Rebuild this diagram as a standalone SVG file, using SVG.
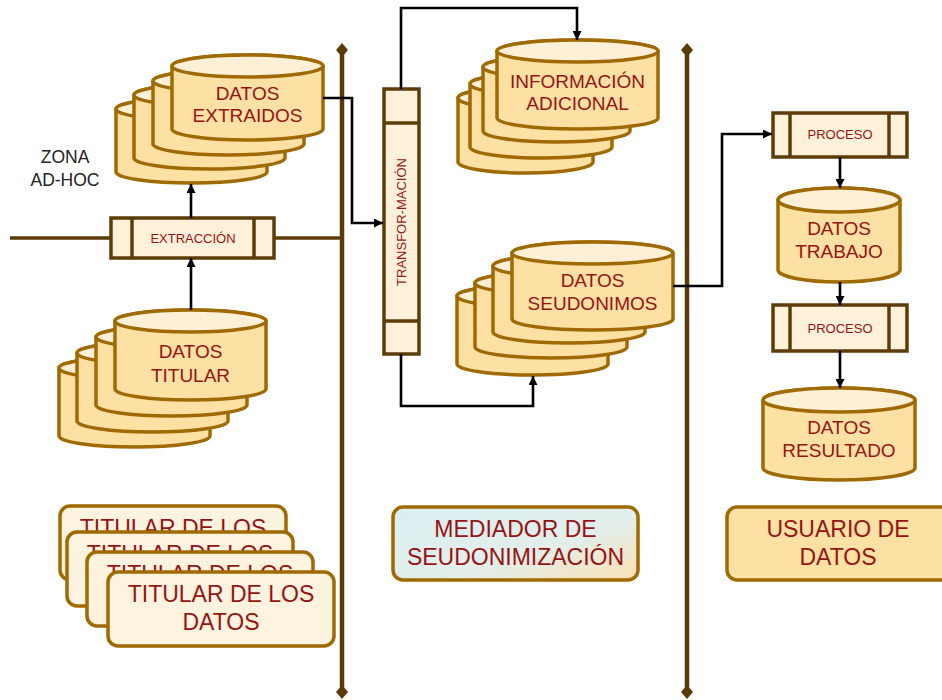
<svg xmlns="http://www.w3.org/2000/svg" width="942" height="700" viewBox="0 0 942 700">
<defs>
<style>
.cyl{fill:#FDE1A4;stroke:#A06A03;stroke-width:3.5;stroke-linejoin:round}
.cyt{fill:#FEF0D6;stroke:#A06A03;stroke-width:3.5}
.proc{fill:#FFF1D9;stroke:#5C3D0A;stroke-width:3.5}
.div{stroke:#5C3D0A;stroke-width:3.5;fill:none}
.card{fill:#FEF3DF;stroke:#A06A03;stroke-width:3.5}
.lane{stroke:#5A3B08;stroke-width:4.5;fill:none}
.dia{fill:#5A3B08}
.conn{fill:none;stroke:#000;stroke-width:2.6;stroke-linejoin:miter}
.t{font-family:"Liberation Sans",Arial,sans-serif;fill:#961414;text-anchor:middle}
.t19{font-size:19px}
.t23{font-size:23px}
.t13{font-size:13px}
.zone{font-family:"Liberation Sans",Arial,sans-serif;font-size:17.5px;fill:#222;text-anchor:middle}
</style>
<marker id="arr" viewBox="0 0 10 10" refX="10" refY="5" markerWidth="9" markerHeight="9" markerUnits="userSpaceOnUse" orient="auto">
<path d="M0,0 L10,5 L0,10 Z" fill="#000"/>
</marker>
<linearGradient id="med" x1="0" y1="0" x2="1" y2="1">
<stop offset="0" stop-color="#DAEFF3"/>
<stop offset="0.6" stop-color="#E3EEEA"/>
<stop offset="1" stop-color="#FBE1B2"/>
</linearGradient>
</defs>
<rect width="942" height="700" fill="#fff"/>

<g id="lanes">
<line class="lane" x1="10" y1="238" x2="342" y2="238" style="stroke-width:3.5"/>
<line class="lane" x1="342" y1="50" x2="342" y2="692"/>
<line class="lane" x1="687" y1="50" x2="687" y2="692"/>
<polygon class="dia" points="342,43 348,50 342,57 336,50"/>
<polygon class="dia" points="342,685 348,692 342,699 336,692"/>
<polygon class="dia" points="687,43 693,50 687,57 681,50"/>
<polygon class="dia" points="687,685 693,692 687,699 681,692"/>
</g>

<g id="zona-adhoc">
<text class="zone" x="65" y="163">ZONA</text>
<text class="zone" x="65" y="186">AD-HOC</text>
</g>

<g id="datos-extraidos">
<path class="cyl" d="M116,109 V172 A75.5,11 0 0 0 267,172 V109 A75.5,11 0 0 0 116,109 Z"/>
<ellipse class="cyt" cx="191.5" cy="109" rx="75.5" ry="11"/>
<path class="cyl" d="M134,95 V158 A75.5,11 0 0 0 285,158 V95 A75.5,11 0 0 0 134,95 Z"/>
<ellipse class="cyt" cx="209.5" cy="95" rx="75.5" ry="11"/>
<path class="cyl" d="M153,81 V144 A75.5,11 0 0 0 304,144 V81 A75.5,11 0 0 0 153,81 Z"/>
<ellipse class="cyt" cx="228.5" cy="81" rx="75.5" ry="11"/>
<path class="cyl" d="M172,66 V129 A75.5,11 0 0 0 323,129 V66 A75.5,11 0 0 0 172,66 Z"/>
<ellipse class="cyt" cx="247.5" cy="66" rx="75.5" ry="11"/>
<text class="t t19" x="247.5" y="100">DATOS</text>
<text class="t t19" x="247.5" y="122">EXTRAIDOS</text>
</g>

<g id="extraccion">
<rect class="proc" x="111" y="218" width="163" height="40"/>
<line class="div" x1="132" y1="218" x2="132" y2="258"/>
<line class="div" x1="254" y1="218" x2="254" y2="258"/>
<text class="t t13" x="193" y="243">EXTRACCIÓN</text>
</g>

<g id="datos-titular">
<path class="cyl" d="M59,368 V436 A75.5,11 0 0 0 210,436 V368 A75.5,11 0 0 0 59,368 Z"/>
<ellipse class="cyt" cx="134.5" cy="368" rx="75.5" ry="11"/>
<path class="cyl" d="M77,353 V421 A75.5,11 0 0 0 228,421 V353 A75.5,11 0 0 0 77,353 Z"/>
<ellipse class="cyt" cx="152.5" cy="353" rx="75.5" ry="11"/>
<path class="cyl" d="M96,337 V405 A75.5,11 0 0 0 247,405 V337 A75.5,11 0 0 0 96,337 Z"/>
<ellipse class="cyt" cx="171.5" cy="337" rx="75.5" ry="11"/>
<path class="cyl" d="M115,321 V389 A75.5,11 0 0 0 266,389 V321 A75.5,11 0 0 0 115,321 Z"/>
<ellipse class="cyt" cx="190.5" cy="321" rx="75.5" ry="11"/>
<text class="t t19" x="190.5" y="358">DATOS</text>
<text class="t t19" x="190.5" y="382">TITULAR</text>
</g>

<g id="transformacion">
<rect class="proc" x="384" y="89" width="35" height="265"/>
<line class="div" x1="384" y1="123" x2="419" y2="123"/>
<line class="div" x1="384" y1="321" x2="419" y2="321"/>
<text class="t t13" transform="translate(406,222) rotate(-90)">TRANSFOR-MACIÓN</text>
</g>

<g id="informacion-adicional">
<path class="cyl" d="M458,98 V162 A67.5,11 0 0 0 593,162 V98 A67.5,11 0 0 0 458,98 Z"/>
<ellipse class="cyt" cx="525.5" cy="98" rx="67.5" ry="11"/>
<path class="cyl" d="M470,84 V147 A71,11 0 0 0 612,147 V84 A71,11 0 0 0 470,84 Z"/>
<ellipse class="cyt" cx="541" cy="84" rx="71" ry="11"/>
<path class="cyl" d="M483,67 V131 A73.5,11 0 0 0 630,131 V67 A73.5,11 0 0 0 483,67 Z"/>
<ellipse class="cyt" cx="556.5" cy="67" rx="73.5" ry="11"/>
<path class="cyl" d="M497,51 V118 A80.5,11 0 0 0 658,118 V51 A80.5,11 0 0 0 497,51 Z"/>
<ellipse class="cyt" cx="577.5" cy="51" rx="80.5" ry="11"/>
<text class="t t19" x="577.5" y="88">INFORMACIÓN</text>
<text class="t t19" x="577.5" y="110">ADICIONAL</text>
</g>

<g id="datos-seudonimos">
<path class="cyl" d="M457,296 V364 A75.5,11 0 0 0 608,364 V296 A75.5,11 0 0 0 457,296 Z"/>
<ellipse class="cyt" cx="532.5" cy="296" rx="75.5" ry="11"/>
<path class="cyl" d="M475,283 V347 A76,11 0 0 0 627,347 V283 A76,11 0 0 0 475,283 Z"/>
<ellipse class="cyt" cx="551" cy="283" rx="76" ry="11"/>
<path class="cyl" d="M493,266 V332 A76,11 0 0 0 645,332 V266 A76,11 0 0 0 493,266 Z"/>
<ellipse class="cyt" cx="569" cy="266" rx="76" ry="11"/>
<path class="cyl" d="M512,253 V319 A80.5,11 0 0 0 673,319 V253 A80.5,11 0 0 0 512,253 Z"/>
<ellipse class="cyt" cx="592.5" cy="253" rx="80.5" ry="11"/>
<text class="t t19" x="592.5" y="287">DATOS</text>
<text class="t t19" x="592.5" y="310">SEUDONIMOS</text>
</g>

<g id="proceso-1">
<rect class="proc" x="773" y="113" width="134" height="44"/>
<line class="div" x1="790" y1="113" x2="790" y2="157"/>
<line class="div" x1="889" y1="113" x2="889" y2="157"/>
<text class="t t13" x="840" y="139">PROCESO</text>
</g>

<g id="datos-trabajo">
<path class="cyl" d="M778,200 V270 A61,12 0 0 0 900,270 V200 A61,12 0 0 0 778,200 Z"/>
<ellipse class="cyt" cx="839" cy="200" rx="61" ry="12"/>
<text class="t t19" x="839" y="235">DATOS</text>
<text class="t t19" x="839" y="258">TRABAJO</text>
</g>

<g id="proceso-2">
<rect class="proc" x="773" y="305" width="134" height="46"/>
<line class="div" x1="790" y1="305" x2="790" y2="351"/>
<line class="div" x1="889" y1="305" x2="889" y2="351"/>
<text class="t t13" x="840" y="333">PROCESO</text>
</g>

<g id="datos-resultado">
<path class="cyl" d="M763,400 V468 A76,12 0 0 0 915,468 V400 A76,12 0 0 0 763,400 Z"/>
<ellipse class="cyt" cx="839" cy="400" rx="76" ry="12"/>
<text class="t t19" x="839" y="434">DATOS</text>
<text class="t t19" x="839" y="457">RESULTADO</text>
</g>

<g id="titular-de-los-datos">
<rect class="card" x="60" y="506" width="226" height="74" rx="10"/>
<text class="t t23" x="173" y="536">TITULAR DE LOS</text>
<rect class="card" x="67" y="532" width="226" height="74" rx="10"/>
<text class="t t23" x="180" y="562">TITULAR DE LOS</text>
<rect class="card" x="87" y="552" width="226" height="74" rx="10"/>
<text class="t t23" x="200" y="582">TITULAR DE LOS</text>
<rect class="card" x="108" y="572" width="226" height="74" rx="10"/>
<text class="t t23" x="221" y="602">TITULAR DE LOS</text>
<text class="t t23" x="221" y="630">DATOS</text>
</g>

<g id="mediador">
<rect x="393" y="507" width="245" height="73" rx="10" fill="url(#med)" stroke="#A06A03" stroke-width="3.5"/>
<text class="t t23" x="515.5" y="537">MEDIADOR DE</text>
<text class="t t23" x="515.5" y="565">SEUDONIMIZACIÓN</text>
</g>

<g id="usuario">
<rect x="727" y="507" width="240" height="73" rx="10" fill="#FDE1A4" stroke="#A06A03" stroke-width="3.5"/>
<text class="t t23" x="838" y="537">USUARIO DE</text>
<text class="t t23" x="838" y="565">DATOS</text>
</g>

<g id="connectors">
<path class="conn" d="M323,98 H352 V223 H383" marker-end="url(#arr)"/>
<path class="conn" d="M401,89 V8 H577 V40" marker-end="url(#arr)"/>
<path class="conn" d="M401,354 V406 H533 V376" marker-end="url(#arr)"/>
<path class="conn" d="M673,286 H722 V134 H772" marker-end="url(#arr)"/>
<path class="conn" d="M840,157 V188" marker-end="url(#arr)"/>
<path class="conn" d="M840,282 V305" marker-end="url(#arr)"/>
<path class="conn" d="M840,351 V388" marker-end="url(#arr)"/>
<path class="conn" d="M191,310 V258" marker-end="url(#arr)"/>
<path class="conn" d="M191,218 V184" marker-end="url(#arr)"/>
</g>
</svg>
